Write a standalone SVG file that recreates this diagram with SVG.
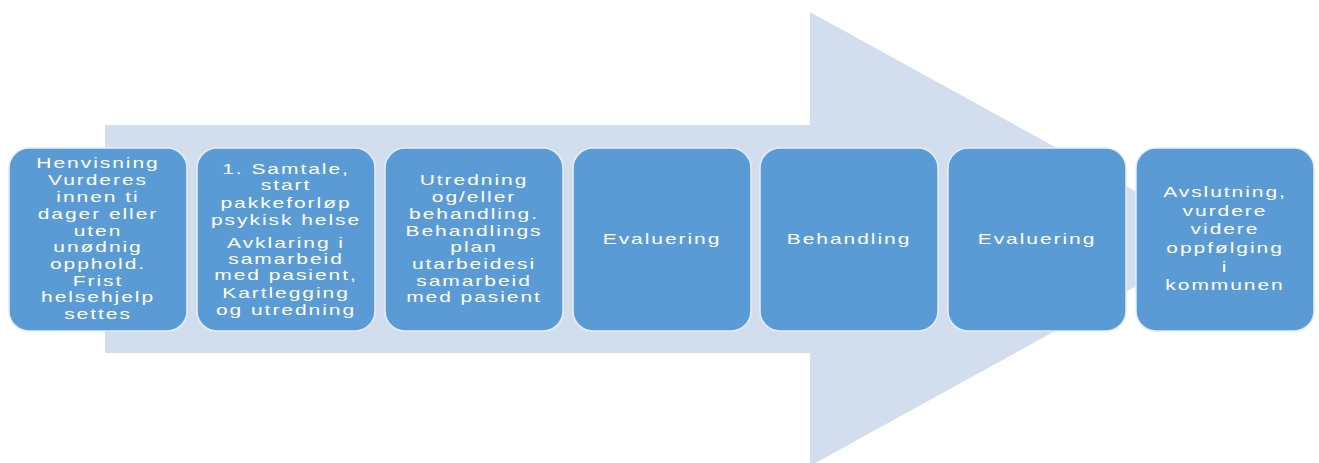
<svg xmlns="http://www.w3.org/2000/svg" width="1319" height="463" viewBox="0 0 1319 463">
  <style>
    .box { fill: #5b9bd5; stroke: #e6edf7; stroke-width: 1.5; }
    .lbl { font-family: "Liberation Sans", Arial, sans-serif; font-size: 14px; fill: #ffffff; text-anchor: middle; letter-spacing: 1.3px; }
  </style>
  <rect width="1319" height="463" fill="#ffffff"/>
  <!-- background process arrow -->
  <g id="arrow">
    <polygon points="105,125 810,125 810,12 1222,239 810,466 810,353 105,353" fill="#d2deee"/>
  </g>
  <g id="connectors"/>

  <g id="step1">
    <rect class="box" x="9" y="148" width="178" height="183" rx="20"/>
    <g class="lbl">
      <text transform="translate(98,168) scale(1.5,1)">Henvisning</text>
      <text transform="translate(98,185) scale(1.5,1)">Vurderes</text>
      <text transform="translate(98,202) scale(1.5,1)">innen ti</text>
      <text transform="translate(98,219) scale(1.5,1)">dager eller</text>
      <text transform="translate(98,236) scale(1.5,1)">uten</text>
      <text transform="translate(98,252) scale(1.5,1)">unødnig</text>
      <text transform="translate(98,269) scale(1.5,1)">opphold.</text>
      <text transform="translate(98,286) scale(1.5,1)">Frist</text>
      <text transform="translate(98,302) scale(1.5,1)">helsehjelp</text>
      <text transform="translate(98,319) scale(1.5,1)">settes</text>
    </g>
  </g>

  <g id="step2">
    <rect class="box" x="197" y="148" width="178" height="183" rx="20"/>
    <g class="lbl">
      <text transform="translate(286,174) scale(1.5,1)">1. Samtale,</text>
      <text transform="translate(286,190) scale(1.5,1)">start</text>
      <text transform="translate(286,208) scale(1.5,1)">pakkeforløp</text>
      <text transform="translate(286,225) scale(1.5,1)">psykisk helse</text>
      <text transform="translate(286,248) scale(1.5,1)">Avklaring i</text>
      <text transform="translate(286,264) scale(1.5,1)">samarbeid</text>
      <text transform="translate(286,280) scale(1.5,1)">med pasient,</text>
      <text transform="translate(286,298) scale(1.5,1)">Kartlegging</text>
      <text transform="translate(286,315) scale(1.5,1)">og utredning</text>
    </g>
  </g>

  <g id="step3">
    <rect class="box" x="385" y="148" width="178" height="183" rx="20"/>
    <g class="lbl">
      <text transform="translate(474,185) scale(1.5,1)">Utredning</text>
      <text transform="translate(474,202) scale(1.5,1)">og/eller</text>
      <text transform="translate(474,219) scale(1.5,1)">behandling.</text>
      <text transform="translate(474,236) scale(1.5,1)">Behandlings</text>
      <text transform="translate(474,252) scale(1.5,1)">plan</text>
      <text transform="translate(474,269) scale(1.5,1)">utarbeidesi</text>
      <text transform="translate(474,286) scale(1.5,1)">samarbeid</text>
      <text transform="translate(474,302) scale(1.5,1)">med pasient</text>
    </g>
  </g>

  <g id="step4">
    <rect class="box" x="573" y="148" width="178" height="183" rx="20"/>
    <text class="lbl" transform="translate(662,244) scale(1.5,1)">Evaluering</text>
  </g>

  <g id="step5">
    <rect class="box" x="760" y="148" width="178" height="183" rx="20"/>
    <text class="lbl" transform="translate(849,244) scale(1.5,1)">Behandling</text>
  </g>

  <g id="step6">
    <rect class="box" x="948" y="148" width="178" height="183" rx="20"/>
    <text class="lbl" transform="translate(1037,244) scale(1.5,1)">Evaluering</text>
  </g>

  <g id="step7">
    <rect class="box" x="1136" y="148" width="178" height="183" rx="20"/>
    <g class="lbl">
      <text transform="translate(1225,197) scale(1.5,1)">Avslutning,</text>
      <text transform="translate(1225,216) scale(1.5,1)">vurdere</text>
      <text transform="translate(1225,234) scale(1.5,1)">videre</text>
      <text transform="translate(1225,253) scale(1.5,1)">oppfølging</text>
      <text transform="translate(1225,272) scale(1.5,1)">i</text>
      <text transform="translate(1225,290) scale(1.5,1)">kommunen</text>
    </g>
  </g>
</svg>
